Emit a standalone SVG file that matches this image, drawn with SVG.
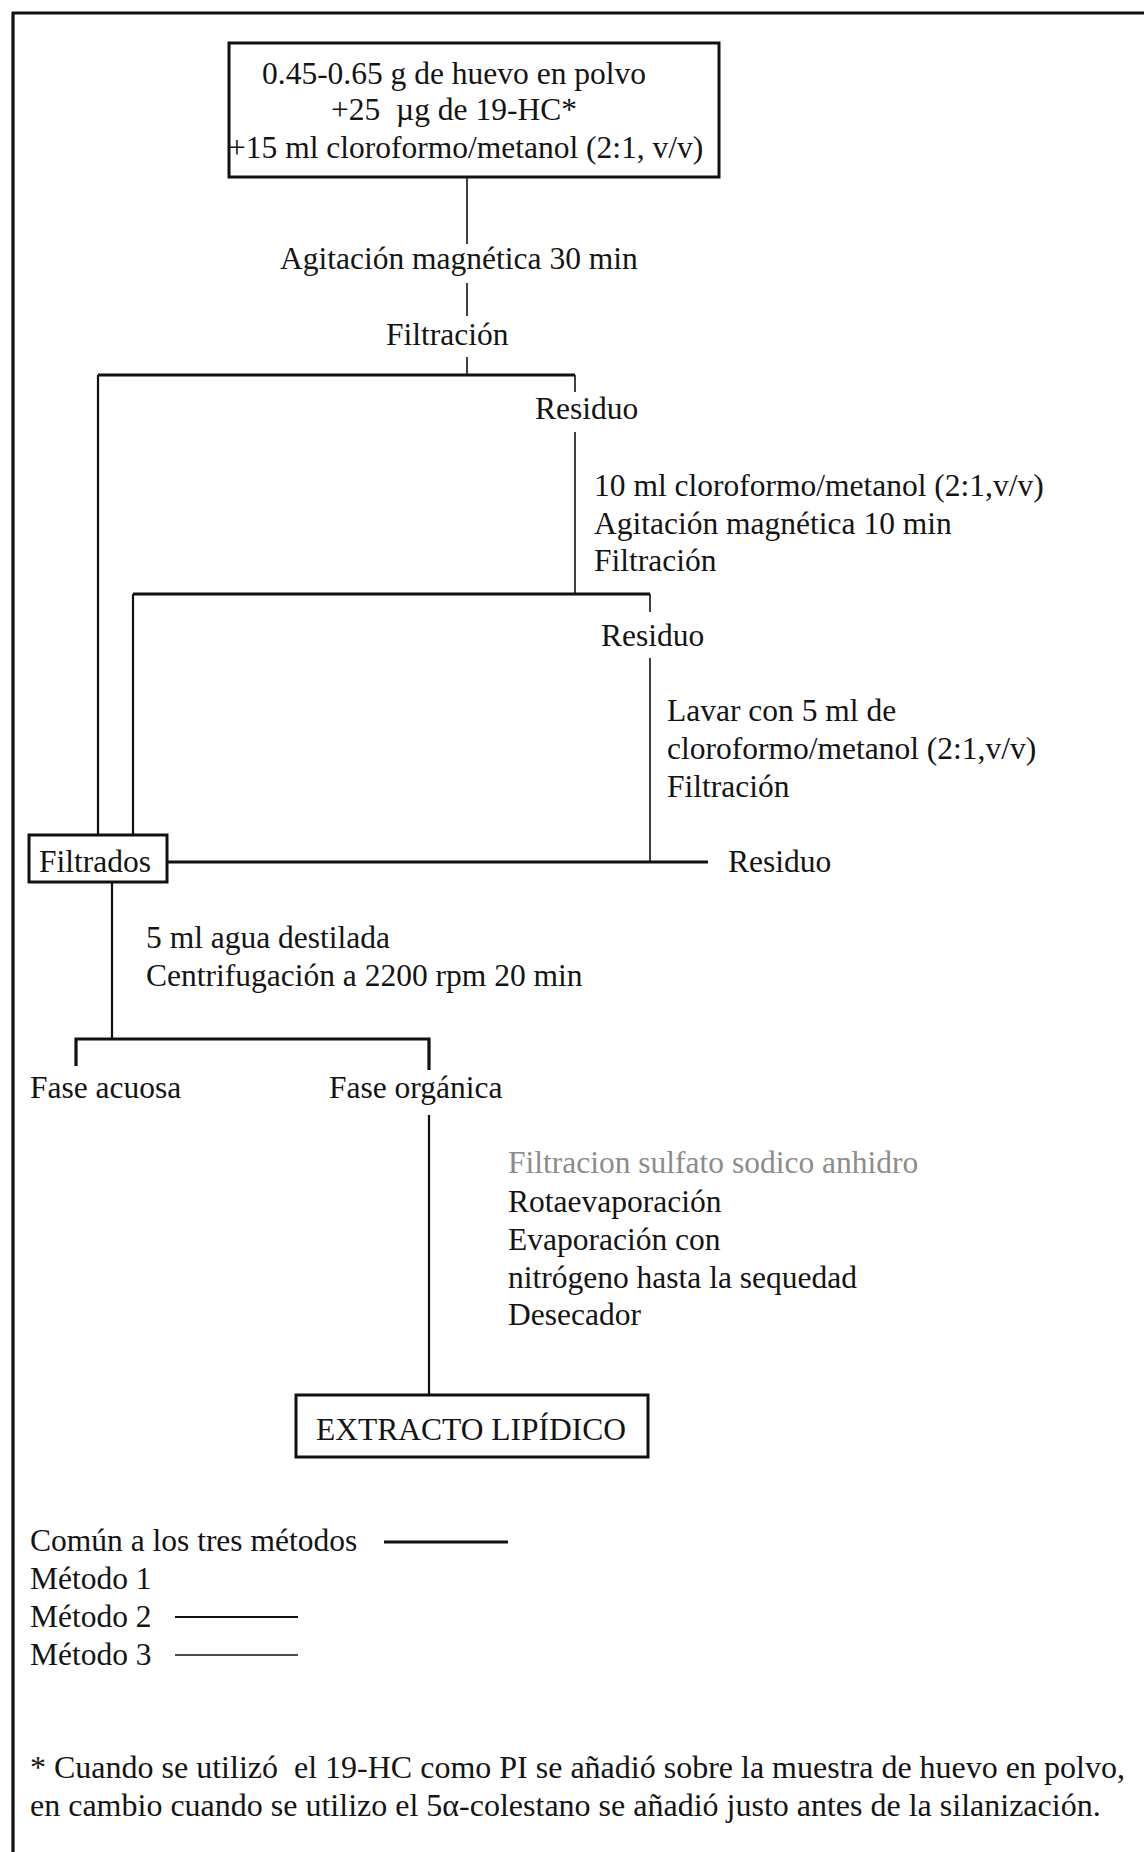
<svg xmlns="http://www.w3.org/2000/svg" width="1144" height="1852" viewBox="0 0 1144 1852">
<style>
.t{font-family:"Liberation Serif","Times New Roman",serif;font-size:31.5px;fill:#141414}
.pre{white-space:pre}
.faint{fill:#8c8c8c}
.box{fill:#fff;stroke:#111;stroke-width:3}
.ln{stroke:#111;fill:none}
.w1{stroke-width:1.6}
.w2{stroke-width:2.2}
.w3{stroke-width:3.2}
</style>
<rect width="1144" height="1852" fill="#fff"/>
<g id="frame">
<line class="ln w3" x1="12" y1="13" x2="1144" y2="13"/>
<line class="ln w3" x1="13" y1="12" x2="13" y2="1852"/>
</g>
<g id="connectors">
<line class="ln w1" x1="467" y1="177" x2="467" y2="244"/>
<line class="ln w1" x1="467" y1="283" x2="467" y2="316"/>
<line class="ln w1" x1="467" y1="357" x2="467" y2="375"/>
<polyline class="ln w3" points="98,375 575,375"/>
<line class="ln w2" x1="98" y1="375" x2="98" y2="835"/>
<line class="ln w1" x1="575" y1="375" x2="575" y2="392"/>
<line class="ln w1" x1="575" y1="432" x2="575" y2="594"/>
<polyline class="ln w3" points="133,594 650,594"/>
<line class="ln w2" x1="133" y1="594" x2="133" y2="835"/>
<line class="ln w1" x1="650" y1="594" x2="650" y2="612"/>
<line class="ln w1" x1="650" y1="658" x2="650" y2="862"/>
<line class="ln w3" x1="167" y1="862" x2="708" y2="862"/>
<line class="ln w2" x1="112" y1="882" x2="112" y2="1039"/>
<polyline class="ln w3" points="76,1066 76,1039 429,1039 429,1070"/>
<line class="ln w2" x1="429" y1="1115" x2="429" y2="1395"/>
</g>
<g id="n-start">
<rect class="box" x="229" y="43" width="490" height="134"/>
<text class="t" x="262" y="84">0.45-0.65 g de huevo en polvo</text>
<text class="t pre" x="331" y="120" xml:space="preserve">+25  µg de 19-HC*</text>
<text class="t" x="228" y="158">+15 ml cloroformo/metanol (2:1, v/v)</text>
</g>
<g id="n-agitacion"><text class="t" x="280" y="269">Agitación magnética 30 min</text></g>
<g id="n-filtracion"><text class="t" x="386" y="345">Filtración</text></g>
<g id="n-residuo1"><text class="t" x="535" y="419">Residuo</text></g>
<g id="n-paso2">
<text class="t" x="594" y="496">10 ml cloroformo/metanol (2:1,v/v)</text>
<text class="t" x="594" y="534">Agitación magnética 10 min</text>
<text class="t" x="594" y="571">Filtración</text>
</g>
<g id="n-residuo2"><text class="t" x="601" y="646">Residuo</text></g>
<g id="n-paso3">
<text class="t" x="667" y="721">Lavar con 5 ml de</text>
<text class="t" x="667" y="759">cloroformo/metanol (2:1,v/v)</text>
<text class="t" x="667" y="797">Filtración</text>
</g>
<g id="n-filtrados">
<rect class="box" x="29" y="835" width="138" height="47"/>
<text class="t" x="39" y="872">Filtrados</text>
</g>
<g id="n-residuo3"><text class="t" x="728" y="872">Residuo</text></g>
<g id="n-centrif">
<text class="t" x="146" y="948">5 ml agua destilada</text>
<text class="t" x="146" y="986">Centrifugación a 2200 rpm 20 min</text>
</g>
<g id="n-acuosa"><text class="t" x="30" y="1098">Fase acuosa</text></g>
<g id="n-organica"><text class="t" x="329" y="1098">Fase orgánica</text></g>
<g id="n-pasos-final">
<text class="t faint" x="508" y="1173">Filtracion sulfato sodico anhidro</text>
<text class="t" x="508" y="1212">Rotaevaporación</text>
<text class="t" x="508" y="1250">Evaporación con</text>
<text class="t" x="508" y="1288">nitrógeno hasta la sequedad</text>
<text class="t" x="508" y="1325">Desecador</text>
</g>
<g id="n-extracto">
<rect class="box" x="296" y="1395" width="352" height="62"/>
<text class="t" x="316" y="1440">EXTRACTO LIPÍDICO</text>
</g>
<g id="legend">
<text class="t" x="30" y="1551">Común a los tres métodos</text>
<line class="ln w3" x1="384" y1="1542" x2="508" y2="1542"/>
<text class="t" x="30" y="1589">Método 1</text>
<text class="t" x="30" y="1627">Método 2</text>
<line class="ln w2" x1="175" y1="1617" x2="298" y2="1617"/>
<text class="t" x="30" y="1665">Método 3</text>
<line class="ln w1" x1="175" y1="1655" x2="298" y2="1655"/>
</g>
<g id="footnote">
<text class="t pre" x="30" y="1778" style="font-size:32px" xml:space="preserve">* Cuando se utilizó  el 19-HC como PI se añadió sobre la muestra de huevo en polvo,</text>
<text class="t" x="30" y="1816" style="font-size:32px">en cambio cuando se utilizo el 5α-colestano se añadió justo antes de la silanización.</text>
</g>
</svg>
